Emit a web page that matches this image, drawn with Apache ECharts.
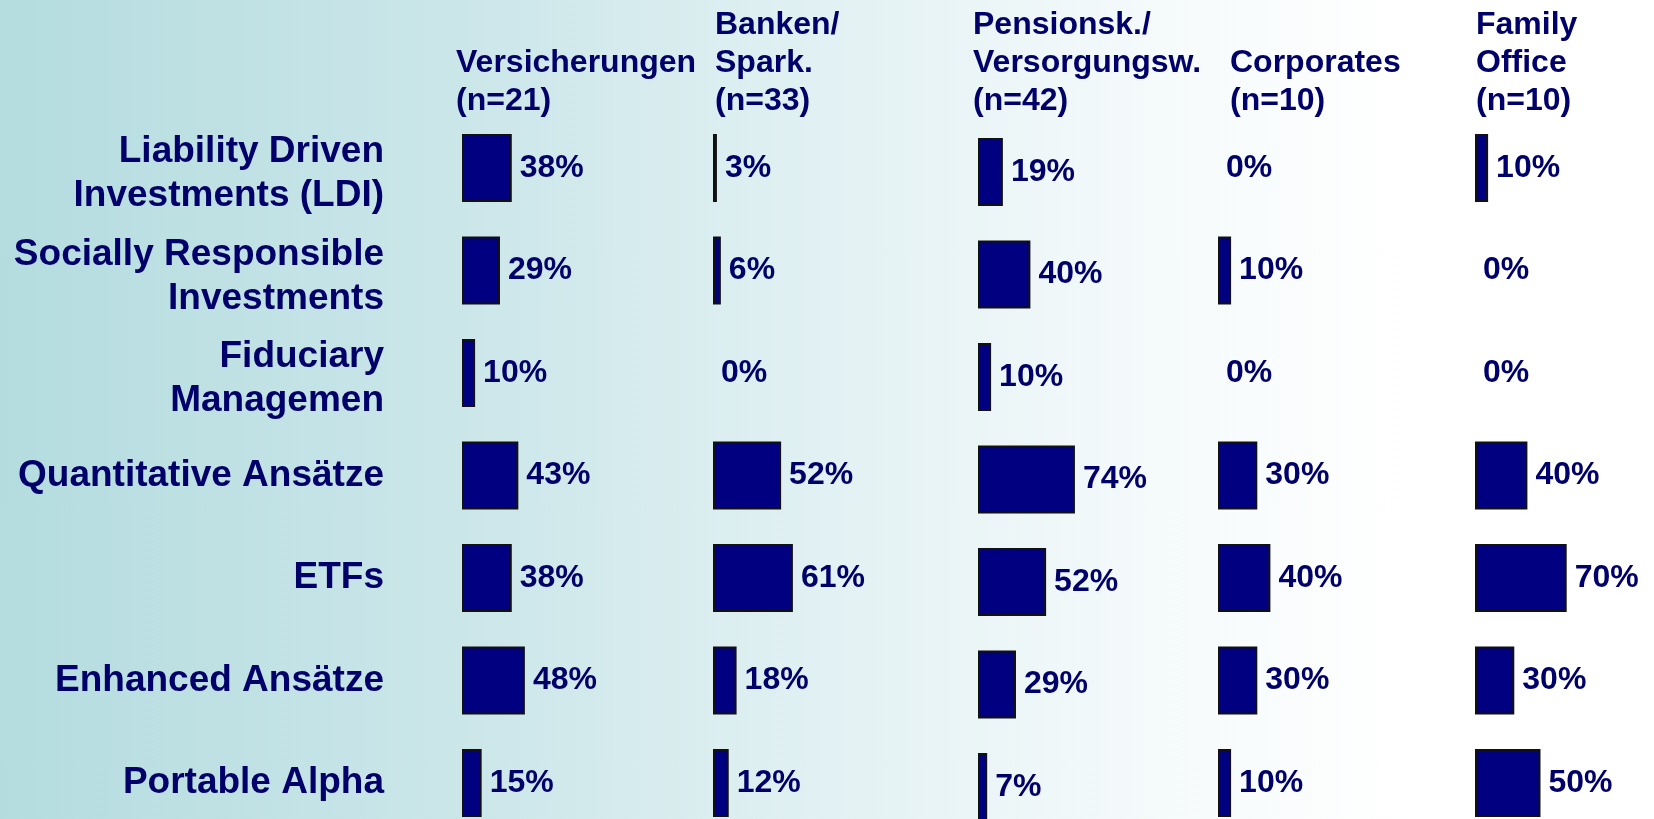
<!DOCTYPE html>
<html>
<head>
<meta charset="utf-8">
<script src="https://cdn.jsdelivr.net/npm/echarts@6/dist/echarts.min.js"></script>
<style>
html,body{margin:0;padding:0;}
#chart{width:1654px;height:819px;background:linear-gradient(to right,#b4dcdf 0%,#cde7ea 30%,#e2f1f3 50%,#f5fafb 70%,#ffffff 85%,#ffffff 100%);}
</style>
</head>
<body>
<div id="chart"></div>
<script>
const categories = [
  "Liability Driven\nInvestments (LDI)",
  "Socially Responsible\nInvestments",
  "Fiduciary\nManagemen",
  "Quantitative Ansätze",
  "ETFs",
  "Enhanced Ansätze",
  "Portable Alpha"
];
const groups = [
  "Versicherungen\n(n=21)",
  "Banken/\nSpark.\n(n=33)",
  "Pensionsk./\nVersorgungsw.\n(n=42)",
  "Corporates\n(n=10)",
  "Family\nOffice\n(n=10)"
];
const versicherungen = [38, 29, 10, 43, 38, 48, 15];
const banken = [3, 6, 0, 52, 61, 18, 12];
const pensionsk = [19, 40, 10, 74, 52, 29, 7];
const corporates = [0, 10, 0, 30, 40, 30, 10];
const familyOffice = [10, 0, 0, 40, 70, 30, 50];
const seriesValues = [versicherungen, banken, pensionsk, corporates, familyOffice];

const NAVY = '#000080';
const TEXT = '#00006a';
const FONT = '"Liberation Sans", Arial, sans-serif';

const colLeft = [462, 713, 978, 1218, 1475];
const colTopOffset = [0, 0, 4, 0, 0];
const headerLeft = [456, 715, 973, 1230, 1476];
const firstCenter = 168;
const lastCenter = 783;

const labelFormatter = v => v.indexOf('\n') >= 0
  ? '{s| }\n' + v.split('\n').map(l => '{t|' + l + '}').join('\n')
  : v;

const grids = [], xAxes = [], yAxes = [], series = [], titles = [];
seriesValues.forEach((vals, i) => {
  grids.push({left: colLeft[i], top: firstCenter + colTopOffset[i], width: 131,
    bottom: 819 - lastCenter - colTopOffset[i], containLabel: false});
  xAxes.push({gridIndex: i, type: 'value', min: 0, max: 100, show: false});
  yAxes.push({
    gridIndex: i, type: 'category', data: categories, inverse: true, boundaryGap: false,
    axisLine: {show: false}, axisTick: {show: false}, splitLine: {show: false},
    axisLabel: i === 0 ? {
      show: true, margin: 78, fontSize: 37, fontWeight: 'bold', fontFamily: FONT,
      color: TEXT, lineHeight: 44, align: 'right', interval: 0,
      formatter: labelFormatter,
      rich: {
        s: {fontSize: 1, lineHeight: 12},
        t: {fontSize: 37, fontWeight: 'bold', fontFamily: FONT, color: TEXT, lineHeight: 44, align: 'right'}
      }
    } : {show: false}
  });
  series.push({
    type: 'bar', xAxisIndex: i, yAxisIndex: i, barWidth: 68,
    data: vals.map(v => v === 0 ? {value: v, itemStyle: {borderWidth: 0}} : v),
    itemStyle: {color: NAVY, borderColor: '#111', borderWidth: 2},
    label: {
      show: true, position: 'right', distance: 8, formatter: '{c}%',
      fontSize: 32, fontWeight: 'bold', fontFamily: FONT, color: TEXT
    },
    animation: false
  });
  const lines = groups[i].split('\n').length;
  titles.push({
    text: groups[i], left: headerLeft[i], top: lines === 3 ? 6 : 44, padding: 0,
    textStyle: {fontSize: 32, fontWeight: 'bold', fontFamily: FONT, color: TEXT, lineHeight: 38}
  });
});

const chart = echarts.init(document.getElementById('chart'), null, {renderer: 'canvas'});
chart.setOption({
  backgroundColor: 'transparent',
  animation: false,
  title: titles,
  grid: grids,
  xAxis: xAxes,
  yAxis: yAxes,
  series: series
});
</script>
</body>
</html>
